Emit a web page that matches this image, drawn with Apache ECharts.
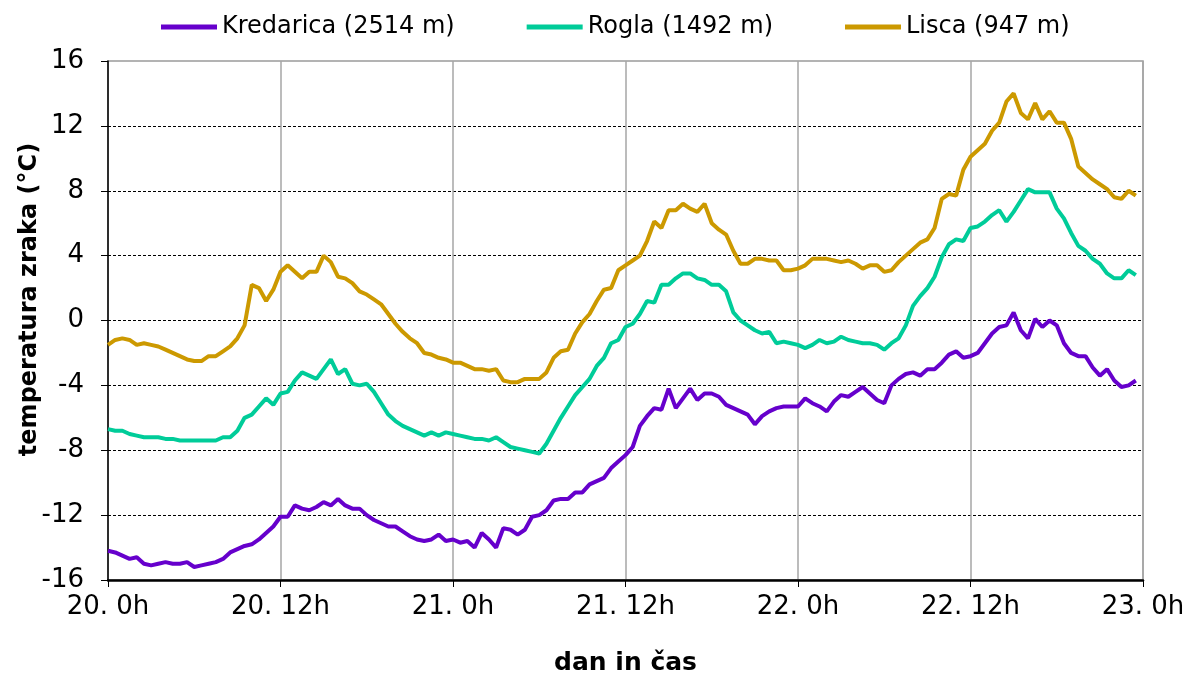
<!DOCTYPE html>
<html>
<head>
<meta charset="utf-8">
<script src="https://cdn.jsdelivr.net/npm/echarts@6/dist/echarts.min.js"></script>
<style>
  html, body { margin: 0; padding: 0; background: #fff; }
  #chart { width: 1194px; height: 682px; }
</style>
</head>
<body>
<div id="chart"></div>
<script>
// half-hourly air temperature, 20. 0h .. 22. 23.5h
const seriesNames = ['Kredarica (2514 m)', 'Rogla (1492 m)', 'Lisca (947 m)']
const colors = ['#6600CC', '#00CC99', '#CC9900']

const kredarica = [
  -14.2, -14.3, -14.5, -14.7, -14.6, -15.0, -15.1, -15.0, -14.9, -15.0, -15.0, -14.9,
  -15.2, -15.1, -15.0, -14.9, -14.7, -14.3, -14.1, -13.9, -13.8, -13.5, -13.1, -12.7,
  -12.1, -12.1, -11.4, -11.6, -11.7, -11.5, -11.2, -11.4, -11.0, -11.4, -11.6, -11.6,
  -12.0, -12.3, -12.5, -12.7, -12.7, -13.0, -13.3, -13.5, -13.6, -13.5, -13.2, -13.6,
  -13.5, -13.7, -13.6, -14.0, -13.1, -13.5, -14.0, -12.8, -12.9, -13.2, -12.9, -12.1,
  -12.0, -11.7, -11.1, -11.0, -11.0, -10.6, -10.6, -10.1, -9.9, -9.7, -9.1, -8.7,
  -8.3, -7.8, -6.5, -5.9, -5.4, -5.5, -4.2, -5.4, -4.8, -4.2, -4.9, -4.5,
  -4.5, -4.7, -5.2, -5.4, -5.6, -5.8, -6.4, -5.9, -5.6, -5.4, -5.3, -5.3,
  -5.3, -4.8, -5.1, -5.3, -5.6, -5.0, -4.6, -4.7, -4.4, -4.1, -4.5, -4.9,
  -5.1, -4.0, -3.6, -3.3, -3.2, -3.4, -3.0, -3.0, -2.6, -2.1, -1.9, -2.3,
  -2.2, -2.0, -1.4, -0.8, -0.4, -0.3, 0.5, -0.6, -1.1, 0.1, -0.4, 0.0,
  -0.3, -1.4, -2.0, -2.2, -2.2, -2.9, -3.4, -3.0, -3.7, -4.1, -4.0, -3.7,
]
const rogla = [
  -6.7, -6.8, -6.8, -7.0, -7.1, -7.2, -7.2, -7.2, -7.3, -7.3, -7.4, -7.4,
  -7.4, -7.4, -7.4, -7.4, -7.2, -7.2, -6.8, -6.0, -5.8, -5.3, -4.8, -5.2,
  -4.5, -4.4, -3.7, -3.2, -3.4, -3.6, -3.0, -2.4, -3.3, -3.0, -3.9, -4.0,
  -3.9, -4.4, -5.1, -5.8, -6.2, -6.5, -6.7, -6.9, -7.1, -6.9, -7.1, -6.9,
  -7.0, -7.1, -7.2, -7.3, -7.3, -7.4, -7.2, -7.5, -7.8, -7.9, -8.0, -8.1,
  -8.2, -7.6, -6.8, -6.0, -5.3, -4.6, -4.1, -3.6, -2.8, -2.3, -1.4, -1.2,
  -0.4, -0.2, 0.4, 1.2, 1.1, 2.2, 2.2, 2.6, 2.9, 2.9, 2.6, 2.5,
  2.2, 2.2, 1.8, 0.5, 0.0, -0.3, -0.6, -0.8, -0.7, -1.4, -1.3, -1.4,
  -1.5, -1.7, -1.5, -1.2, -1.4, -1.3, -1.0, -1.2, -1.3, -1.4, -1.4, -1.5,
  -1.8, -1.4, -1.1, -0.3, 0.9, 1.5, 2.0, 2.7, 3.9, 4.7, 5.0, 4.9,
  5.7, 5.8, 6.1, 6.5, 6.8, 6.1, 6.7, 7.4, 8.1, 7.9, 7.9, 7.9,
  6.9, 6.3, 5.4, 4.6, 4.3, 3.8, 3.5, 2.9, 2.6, 2.6, 3.1, 2.8,
]
const lisca = [
  -1.5, -1.2, -1.1, -1.2, -1.5, -1.4, -1.5, -1.6, -1.8, -2.0, -2.2, -2.4,
  -2.5, -2.5, -2.2, -2.2, -1.9, -1.6, -1.1, -0.3, 2.2, 2.0, 1.2, 1.9,
  3.0, 3.4, 3.0, 2.6, 3.0, 3.0, 4.0, 3.6, 2.7, 2.6, 2.3, 1.8,
  1.6, 1.3, 1.0, 0.4, -0.2, -0.7, -1.1, -1.4, -2.0, -2.1, -2.3, -2.4,
  -2.6, -2.6, -2.8, -3.0, -3.0, -3.1, -3.0, -3.7, -3.8, -3.8, -3.6, -3.6,
  -3.6, -3.2, -2.3, -1.9, -1.8, -0.8, -0.1, 0.4, 1.2, 1.9, 2.0, 3.1,
  3.4, 3.7, 4.0, 4.9, 6.1, 5.7, 6.8, 6.8, 7.2, 6.9, 6.7, 7.2,
  6.0, 5.6, 5.3, 4.3, 3.5, 3.5, 3.8, 3.8, 3.7, 3.7, 3.1, 3.1,
  3.2, 3.4, 3.8, 3.8, 3.8, 3.7, 3.6, 3.7, 3.5, 3.2, 3.4, 3.4,
  3.0, 3.1, 3.6, 4.0, 4.4, 4.8, 5.0, 5.7, 7.5, 7.8, 7.7, 9.3,
  10.1, 10.5, 10.9, 11.7, 12.2, 13.5, 14.0, 12.8, 12.4, 13.4, 12.4, 12.9,
  12.2, 12.2, 11.2, 9.5, 9.1, 8.7, 8.4, 8.1, 7.6, 7.5, 8.0, 7.7,
]

const stepHours = 0.5 // one reading every half hour
const firstDay = 20

function toPairs(values) {
  return values.map((v, i) => [i * stepHours, v])
}

const chart = echarts.init(document.getElementById('chart'))

const options = {
  animation: false,
  backgroundColor: '#fff',
  color: colors,
  legend: {
    top: 10,
    left: 156,
    icon: 'rect',
    itemWidth: 56,
    itemHeight: 5,
    itemGap: 72,
    textStyle: {
      fontFamily: 'DejaVu Sans',
      fontSize: 24,
      color: '#000',
    },
  },
  grid: {
    left: 108,
    right: 51,
    top: 61,
    bottom: 102,
    show: true,
    borderColor: '#9a9a9a',
    borderWidth: 1.5,
  },
  xAxis: {
    type: 'value',
    min: 0,
    max: 72,
    interval: 12,
    name: 'dan in čas',
    nameLocation: 'middle',
    nameGap: 71,
    nameTextStyle: {
      fontFamily: 'DejaVu Sans',
      fontWeight: 'bold',
      fontSize: 25,
      color: '#000',
    },
    axisLine: { onZero: false, lineStyle: { color: '#000', width: 2.5 } },
    axisTick: { show: true, length: 7, lineStyle: { color: '#000', width: 1 } },
    axisLabel: {
      margin: 14,
      fontFamily: 'DejaVu Sans',
      fontSize: 26,
      color: '#000',
      formatter: (v) => (firstDay + Math.floor(v / 24)) + '. ' + (v % 24) + 'h',
    },
    splitLine: {
      show: true,
      showMinLine: false,
      lineStyle: { color: '#a6a6a6', width: 1.5 },
    },
  },
  yAxis: {
    type: 'value',
    min: -16,
    max: 16,
    interval: 4,
    name: 'temperatura zraka (°C)',
    nameLocation: 'middle',
    nameGap: 66,
    nameMoveOverlap: false,
    nameTextStyle: {
      fontFamily: 'DejaVu Sans',
      fontWeight: 'bold',
      fontSize: 24,
      color: '#000',
      padding: [0, 0, 0, 42],
    },
    axisLine: { show: true, onZero: false, lineStyle: { color: '#000', width: 1.5 } },
    axisTick: { show: true, length: 7, lineStyle: { color: '#000', width: 1 } },
    axisLabel: {
      margin: 24,
      fontFamily: 'DejaVu Sans',
      fontSize: 26,
      color: '#000',
    },
    splitLine: {
      show: true,
      showMinLine: false,
      showMaxLine: false,
      lineStyle: { color: '#000', width: 1, type: [3, 2] },
    },
  },
  series: [
    { name: seriesNames[0], type: 'line', data: toPairs(kredarica), showSymbol: false, lineStyle: { width: 4 } },
    { name: seriesNames[1], type: 'line', data: toPairs(rogla), showSymbol: false, lineStyle: { width: 4 } },
    { name: seriesNames[2], type: 'line', data: toPairs(lisca), showSymbol: false, lineStyle: { width: 4 } },
  ],
}

chart.setOption(options)
</script>
</body>
</html>
